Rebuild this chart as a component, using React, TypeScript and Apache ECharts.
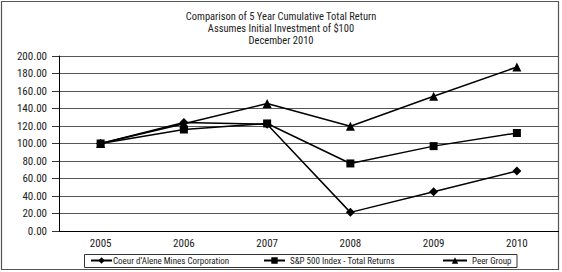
import React, { useEffect, useRef } from "react";
import * as echarts from "echarts";

const years = ["2005", "2006", "2007", "2008", "2009", "2010"];
const coeur = [100, 124, 122, 21.3, 44.8, 68.5];
const sp500 = [100, 116, 122.9, 77.2, 97, 112];
const peer = [100, 122.5, 145.7, 119.8, 154, 187.4];
const titleLines = [
  "Comparison of 5 Year Cumulative Total Return",
  "Assumes Initial Investment of $100",
  "December 2010",
];
const seriesNames = [
  "Coeur d\u2019Alene Mines Corporation",
  "S&P 500 Index - Total Returns",
  "Peer Group",
];

const FONT = "'Liberation Sans Narrow', 'Arial Narrow', 'Roboto Condensed', 'Liberation Sans', sans-serif";

export default function App() {
  const ref = useRef<HTMLDivElement>(null);
  useEffect(() => {
    document.body.style.margin = "0";
    const chart = echarts.init(ref.current!, null, { renderer: "svg" });
    const mk = (name: string, data: number[], symbol: string, size: number) => ({
      name,
      type: "line",
      data,
      symbol,
      symbolSize: size,
      lineStyle: { color: "#000", width: 1.5 },
      itemStyle: { color: "#000" },
      z: 3,
    });
    const legendLefts = [90, 263, 442];
    const legendWidths = [21, 21, 24];
    const legendPads = [-4, 0, 0];
    chart.setOption({
      animation: false,
      backgroundColor: "#fff",
      textStyle: { fontFamily: FONT },
      title: {
        text: titleLines.join("\n"),
        left: "center",
        top: 10,
        padding: 0,
        textStyle: { fontFamily: FONT, fontSize: 10.5, fontWeight: "normal", color: "#222", lineHeight: 12 },
      },
      legend: seriesNames.map((n, i) => ({
        data: [n],
        left: legendLefts[i],
        top: 256,
        itemWidth: legendWidths[i],
        itemHeight: 8,
        itemGap: 0,
        padding: 0,
        selectedMode: false,
        textStyle: { fontFamily: FONT, fontSize: 9, color: "#222", padding: [0, 0, 0, legendPads[i]] },
      })),
      grid: { left: 59, right: 3.5, top: 56, bottom: 41, containLabel: false },
      xAxis: {
        type: "category",
        data: years,
        boundaryGap: true,
        axisLine: { lineStyle: { color: "#000", width: 1 } },
        axisTick: { alignWithLabel: true, inside: true, length: 3, lineStyle: { color: "#333" } },
        axisLabel: { fontFamily: FONT, fontSize: 11, color: "#222", margin: 7 },
      },
      yAxis: {
        type: "value",
        min: 0,
        max: 200,
        interval: 20,
        axisLine: { show: true, lineStyle: { color: "#000", width: 1 } },
        axisTick: { show: true, length: 7, lineStyle: { color: "#333" } },
        axisLabel: { fontFamily: FONT, fontSize: 11, color: "#222", margin: 12, formatter: (v: number) => v.toFixed(2) },
        splitLine: { lineStyle: { color: "#555", width: 1 } },
      },
      graphic: [
        {
          type: "rect",
          shape: { x: 1.5, y: 1.5, width: 557, height: 268 },
          style: { fill: "none", stroke: "#555", lineWidth: 1.2 },
          z: -1,
          silent: true,
        },
        {
          type: "rect",
          shape: { x: 84.5, y: 254.5, width: 432.5, height: 13 },
          style: { fill: "none", stroke: "#333", lineWidth: 1 },
          silent: true,
        },
      ],
      series: [
        mk(seriesNames[0], coeur, "diamond", 9),
        mk(seriesNames[1], sp500, "rect", 8),
        mk(seriesNames[2], peer, "triangle", 9),
      ],
    });
    return () => chart.dispose();
  }, []);
  return <div ref={ref} style={{ width: 562, height: 272, position: "absolute", left: 0, top: 0 }} />;
}
